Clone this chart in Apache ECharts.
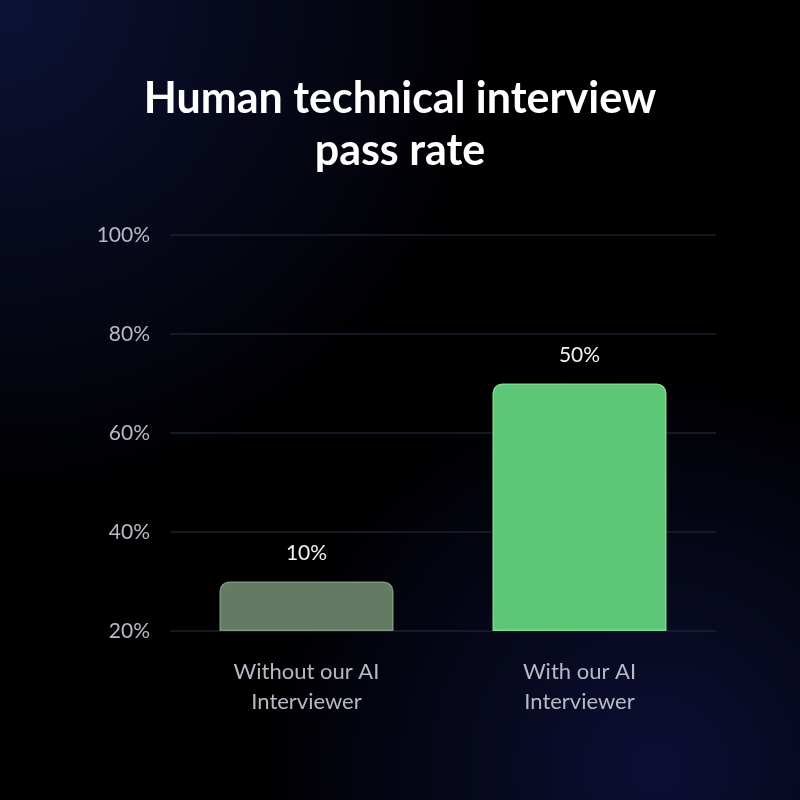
<!DOCTYPE html>
<html>
<head>
<meta charset="utf-8">
<script src="https://cdn.jsdelivr.net/npm/echarts@6/dist/echarts.min.js"></script>
<style>
  html, body { margin: 0; padding: 0; }
  body {
    width: 800px; height: 800px;
    background:
      radial-gradient(circle at 0% 0%, rgba(14, 20, 60, 0.9) 0%, rgba(0, 0, 0, 0) 45%),
      radial-gradient(circle at 82% 96%, rgba(16, 20, 70, 0.75) 0%, rgba(0, 0, 0, 0) 40%),
      #000;
  }
  #chart { width: 800px; height: 800px; }
</style>
</head>
<body>
<div id="chart"></div>
<script>
// chart data
const categories = ['Without our AI\nInterviewer', 'With our AI\nInterviewer']
const passRate = [10, 50] // shown above bars, bars measured from the 20% baseline
const tickLabels = ['20%', '40%', '60%', '80%', '100%']
const barColors = ['#637a63', '#5ec677']
const barBorders = ['#7e957e', '#7fd894']

const myEchart = echarts.init(document.getElementById('chart'))
const options = {
  backgroundColor: 'transparent',
  title: {
    text: 'Human technical interview\npass rate',
    left: 'center',
    top: 68,
    textStyle: {
      color: '#ffffff',
      fontSize: 43,
      fontWeight: 'bold',
      fontFamily: 'Lato',
      lineHeight: 52
    }
  },
  grid: {
    left: 170,
    right: 84,
    top: 235,
    bottom: 169,
    containLabel: false
  },
  xAxis: {
    type: 'category',
    data: categories,
    axisLine: { show: false },
    axisTick: { show: false },
    splitLine: { show: false },
    axisLabel: {
      margin: 26,
      color: '#b9b9c6',
      fontSize: 22,
      lineHeight: 30,
      fontFamily: 'Lato'
    }
  },
  yAxis: {
    type: 'value',
    min: 0,
    max: 80,
    interval: 20,
    axisLine: { show: false },
    axisTick: { show: false },
    splitLine: {
      show: true,
      lineStyle: { color: '#1d2130', width: 1.5 }
    },
    axisLabel: {
      margin: 20,
      color: '#b9b9c6',
      fontSize: 21,
      fontFamily: 'Lato',
      formatter: (v) => tickLabels[Math.round(v / 20)]
    }
  },
  series: [
    {
      type: 'bar',
      barWidth: 174,
      data: passRate.map((v, i) => ({
        value: v,
        itemStyle: {
          color: barColors[i],
          borderColor: barBorders[i],
          borderWidth: 1.5,
          borderRadius: [9, 9, 0, 0]
        }
      })),
      label: {
        show: true,
        position: 'top',
        distance: 18,
        color: '#f2f2f2',
        fontSize: 21,
        fontFamily: 'Lato',
        formatter: '{c}%'
      }
    }
  ]
}
myEchart.setOption(options)
</script>
</body>
</html>
